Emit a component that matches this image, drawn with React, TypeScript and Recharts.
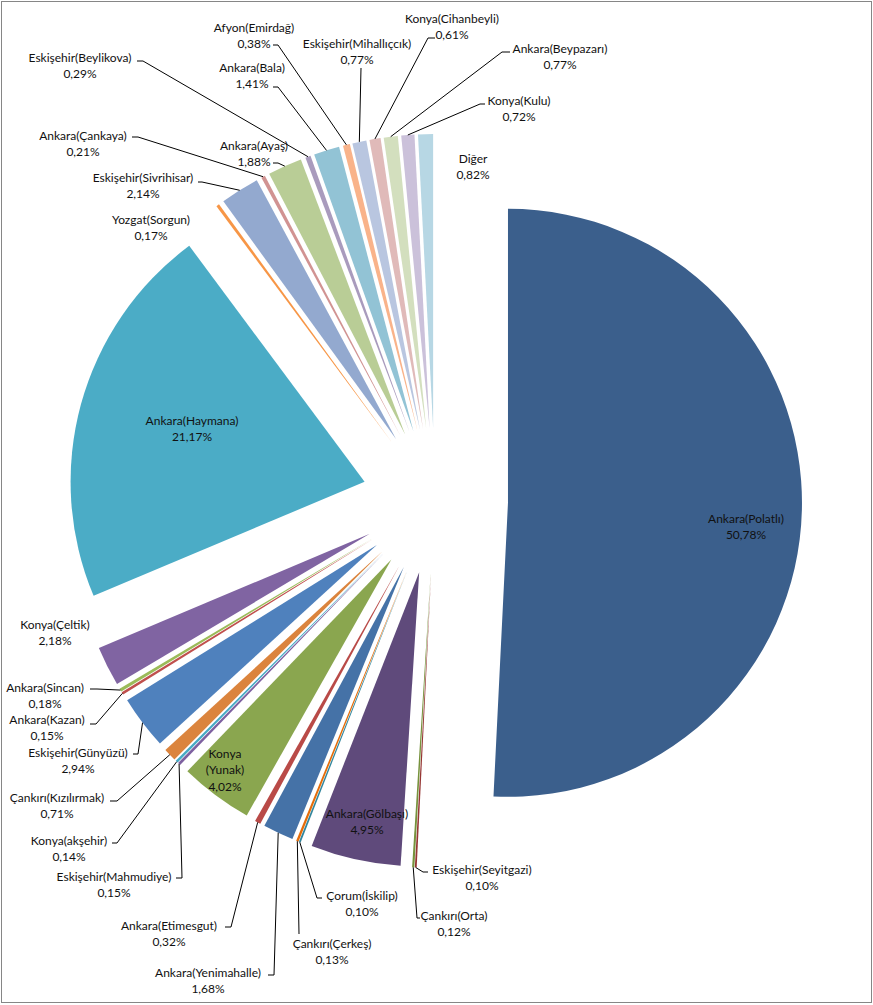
import { PieChart, Pie, Cell, Sector, Tooltip } from 'recharts'

const names = [
  'Ankara(Polatlı)', 'Eskişehir(Seyitgazi)', 'Çankırı(Orta)', 'Ankara(Gölbaşı)', 'Çorum(İskilip)',
  'Çankırı(Çerkeş)', 'Ankara(Yenimahalle)', 'Ankara(Etimesgut)', 'Konya (Yunak)', 'Eskişehir(Mahmudiye)',
  'Konya(akşehir)', 'Çankırı(Kızılırmak)', 'Eskişehir(Günyüzü)', 'Ankara(Kazan)', 'Ankara(Sincan)',
  'Konya(Çeltik)', 'Ankara(Haymana)', 'Yozgat(Sorgun)', 'Eskişehir(Sivrihisar)', 'Ankara(Çankaya)',
  'Ankara(Ayaş)', 'Eskişehir(Beylikova)', 'Ankara(Bala)', 'Afyon(Emirdağ)', 'Eskişehir(Mihallıçcık)',
  'Konya(Cihanbeyli)', 'Ankara(Beypazarı)', 'Konya(Kulu)', 'Diğer',
]

const shares = [
  50.78, 0.1, 0.12, 4.95, 0.1,
  0.13, 1.68, 0.32, 4.02, 0.15,
  0.14, 0.71, 2.94, 0.15, 0.18,
  2.18, 21.17, 0.17, 2.14, 0.21,
  1.88, 0.29, 1.41, 0.38, 0.77,
  0.61, 0.77, 0.72, 0.82,
]

const colors = [
  '#3B5F8C', '#963634', '#76923C', '#5F4A7B', '#31859C',
  '#E46C0A', '#4572A7', '#B94A47', '#8AA64F', '#7D60A0',
  '#46AAC5', '#DB843D', '#4F81BD', '#C0504D', '#9BBB59',
  '#8064A2', '#4BACC6', '#F79646', '#93A9CF', '#D19392',
  '#B9CD96', '#A99BBD', '#92C3D5', '#F9B38A', '#B9C6E0',
  '#E0BAB9', '#D3DFBE', '#CBC1DA', '#B7D7E4',
]

// label layout (text centre, first line)
const labelPos: [number, number][] = [
  [746, 518], [482, 869], [454, 915], [367, 813], [362, 895],
  [332, 943], [208, 972], [169, 925], [225, 753], [114, 876],
  [69, 840], [57, 797], [78, 752], [47, 719], [45, 687],
  [55, 624], [192, 420], [151, 219], [143, 177], [83, 135],
  [254, 145], [80, 57], [252, 67], [254, 27], [357, 43],
  [452, 18], [560, 48], [519, 100], [473, 158],
]

// leader lines: [elbow, end at label] or null
type Pt = [number, number]
const leaders: ([Pt, Pt] | null)[] = [
  null, [[423, 872], [428, 872]], [[417, 918], [420, 918]], null, [[317, 898], [322, 898]],
  [[299, 934], [299, 934]], [[274, 975], [268, 975]], [[231, 927], [225, 927]], null, [[182, 878], [176, 878]],
  [[117, 843], [112, 843]], [[117, 801], [110, 801]], [[138, 754], [133, 754]], [[96, 724], [90, 724]], [[97, 689], [90, 689]],
  null, null, null, [[202, 182], [198, 182]], [[138, 137], [132, 137]],
  [[278, 163], [273, 163]], [[143, 61], [137, 61]], [[278, 87], [273, 87]], [[278, 45], [273, 45]], [[361, 68], [361, 68]],
  [[428, 38], [435, 38]], [[502, 52], [510, 52]], [[480, 104], [485, 104]], null,
]

const data = names.map((name, i) => ({ name, value: shares[i] }))

const EXPLODE = 73
const RAD = Math.PI / 180

function ExplodedSector(props: any) {
  const { cx, cy, midAngle, innerRadius, outerRadius, startAngle, endAngle, fill } = props
  const dx = EXPLODE * Math.cos(-midAngle * RAD)
  const dy = EXPLODE * Math.sin(-midAngle * RAD)
  return (
    <Sector
      cx={cx + dx}
      cy={cy + dy}
      innerRadius={innerRadius}
      outerRadius={outerRadius}
      startAngle={startAngle}
      endAngle={endAngle}
      fill={fill}
      stroke="none"
    />
  )
}

const fmt = (v: number) => v.toFixed(2).replace('.', ',') + '%'

function renderLabel(props: any) {
  const { index, cx, cy, midAngle, outerRadius } = props
  const [lx, ly] = labelPos[index]
  const lines = [...names[index].split(' '), fmt(shares[index])]
  const leader = leaders[index]
  let path = null
  if (leader) {
    const r = outerRadius + EXPLODE
    const sx = cx + r * Math.cos(-midAngle * RAD)
    const sy = cy + r * Math.sin(-midAngle * RAD)
    path = (
      <polyline
        points={`${sx},${sy} ${leader[0][0]},${leader[0][1]} ${leader[1][0]},${leader[1][1]}`}
        fill="none"
        stroke="#000"
        strokeWidth={1}
      />
    )
  }
  return (
    <g key={`lbl-${index}`}>
      {path}
      {lines.map((t, k) => (
        <text
          key={k}
          x={lx}
          y={ly + k * 16.5}
          textAnchor="middle"
          dominantBaseline="central"
          fontSize={12}
          fontFamily="Lato, 'Noto Sans', sans-serif"
          fill="#111"
        >
          {t}
        </text>
      ))}
    </g>
  )
}

export default function App() {
  return (
    <div style={{ position: 'absolute', left: 0, top: 0, width: 873, height: 1005, background: '#fff' }}>
      <div
        style={{
          position: 'absolute',
          left: 1,
          top: 1,
          width: 869,
          height: 1000,
          border: '1px solid #868686',
        }}
      />
      <div style={{ position: 'absolute', left: 0, top: 0 }}>
        <PieChart width={873} height={1005} margin={{ top: 0, right: 0, bottom: 0, left: 0 }}>
          <Pie
            data={data}
            dataKey="value"
            nameKey="name"
            cx={435}
            cy={501}
            outerRadius={294}
            startAngle={90}
            endAngle={-270}
            stroke="none"
            shape={ExplodedSector}
            activeShape={ExplodedSector}
            inactiveShape={ExplodedSector}
            label={renderLabel}
            labelLine={false}
            isAnimationActive={false}
          >
            {data.map((d, i) => (
              <Cell key={d.name} fill={colors[i]} />
            ))}
          </Pie>
          <Tooltip defaultIndex={0} content={() => null} cursor={false} />
        </PieChart>
      </div>
    </div>
  )
}
